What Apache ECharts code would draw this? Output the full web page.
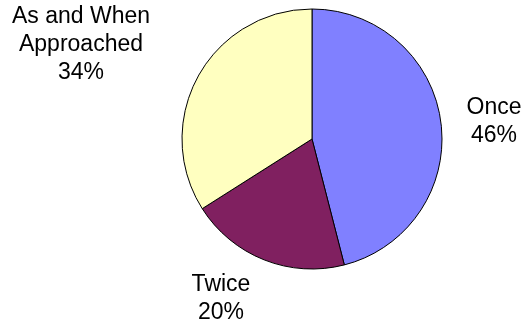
<!DOCTYPE html>
<html>
<head>
<meta charset="utf-8">
<script src="https://cdn.jsdelivr.net/npm/echarts@6/dist/echarts.min.js"></script>
<style>html,body{margin:0;padding:0;background:#fff}#c{width:524px;height:328px}</style>
</head>
<body>
<div id="c"></div>
<script>
var categories = ['Once', 'Twice', 'As and When\nApproached'];
var values = [46, 20, 34];
var colors = ['#8080FF', '#802060', '#FFFFC0'];
var labelPos = [[494, 122], [221, 299], [81, 45]];

var chart = echarts.init(document.getElementById('c'), null, {renderer: 'canvas'});
chart.setOption({
  animation: false,
  backgroundColor: '#fff',
  series: [{
    type: 'pie',
    center: [312, 139],
    radius: 130,
    startAngle: 90,
    clockwise: true,
    data: categories.map(function (c, i) {
      return {name: c, value: values[i], itemStyle: {color: colors[i]}};
    }),
    itemStyle: {borderColor: '#000', borderWidth: 1},
    label: {
      show: true,
      position: 'outside',
      alignTo: 'none',
      overflow: 'none',
      width: 300,
      formatter: function (p) { return p.name + '\n' + p.value + '%'; },
      fontFamily: 'Liberation Sans, Arial, sans-serif',
      fontSize: 23,
      lineHeight: 28,
      color: '#000',
      align: 'center'
    },
    labelLine: {show: false},
    labelLayout: function (p) {
      var pos = labelPos[p.dataIndex];
      return {x: pos[0], y: pos[1], align: 'center', verticalAlign: 'middle', hideOverlap: false};
    },
    emphasis: {disabled: true}
  }]
});
</script>
</body>
</html>
